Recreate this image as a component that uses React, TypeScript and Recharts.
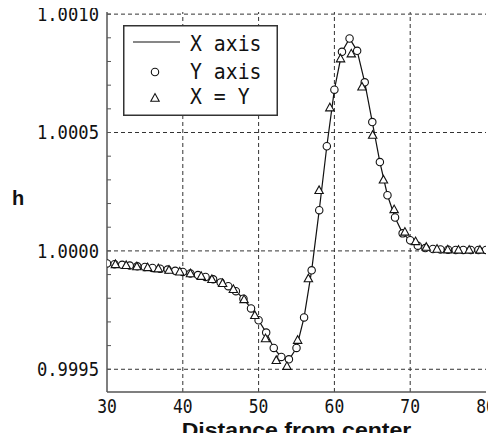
import {
  ComposedChart,
  Line,
  Scatter,
  XAxis,
  YAxis,
  ReferenceLine,
  Legend,
  Label,
} from "recharts";

// distance along the X axis / Y axis (integer steps)
const distance = [
  30, 31, 32, 33, 34, 35, 36, 37, 38, 39, 40, 41, 42, 43, 44, 45, 46, 47, 48, 49,
  50, 51, 52, 53, 54, 55, 56, 57, 58, 59, 60, 61, 62, 63, 64, 65, 66, 67, 68, 69,
  70, 71, 72, 73, 74, 75, 76, 77, 78, 79, 80,
];

// h along X axis (line)
const hXAxis = [
  0.999947, 0.999944, 0.999941, 0.999938, 0.999935, 0.999932, 0.999928, 0.999925,
  0.999921, 0.999916, 0.999911, 0.999905, 0.999898, 0.99989, 0.99988, 0.999867,
  0.999851, 0.99983, 0.999798, 0.999757, 0.999707, 0.999655, 0.99959, 0.99955,
  0.99954, 0.99959, 0.999719, 0.999918, 1.000172, 1.000442, 1.000681, 1.000841,
  1.000897, 1.000845, 1.000712, 1.000544, 1.000375, 1.000235, 1.000141, 1.000074,
  1.000045, 1.000022, 1.000012, 1.000008, 1.000006, 1.000005, 1.000004, 1.000004,
  1.000004, 1.000004, 1.000004,
];

// h along Y axis (circles)
const hYAxis = [
  0.999947, 0.999944, 0.999941, 0.999938, 0.999935, 0.999932, 0.999928, 0.999925,
  0.999921, 0.999916, 0.999911, 0.999905, 0.999898, 0.99989, 0.99988, 0.999867,
  0.999851, 0.99983, 0.999798, 0.999757, 0.999707, 0.999655, 0.99959, 0.999552,
  0.999542, 0.99959, 0.999719, 0.999918, 1.000172, 1.000442, 1.000681, 1.000841,
  1.000897, 1.000845, 1.000712, 1.000544, 1.000375, 1.000235, 1.000141, 1.000074,
  1.000045, 1.000022, 1.000012, 1.000008, 1.000006, 1.000005, 1.000004, 1.000004,
  1.000004, 1.000004, 1.000004,
];

// distance along the diagonal X = Y (triangles)
const diagDistance = [
  31.11, 32.53, 33.94, 35.36, 36.77, 38.18, 39.6, 41.01, 42.43, 43.84, 45.25, 46.67,
  48.08, 49.5, 50.91, 52.33, 53.74, 55.15, 56.57, 57.98, 59.4, 60.81, 62.23, 63.64,
  65.05, 66.47, 67.88, 69.3, 70.71, 72.12, 73.54, 74.95, 76.37, 77.78, 79.2,
];

const hDiag = [
  0.999943, 0.999939, 0.999934, 0.99993, 0.999925, 0.999919, 0.999912, 0.999904,
  0.999893, 0.99988, 0.999863, 0.999838, 0.999795, 0.999728, 0.99963, 0.999538,
  0.999513, 0.999623, 0.999883, 1.000256, 1.000605, 1.000812, 1.000833, 1.000693,
  1.000489, 1.0003, 1.000175, 1.00008, 1.00004, 1.000016, 1.000008, 1.000005,
  1.000004, 1.000004, 1.000004,
];

const seriesOrder = ["X axis", "Y axis", "X = Y"];
const xTicks = [30, 40, 50, 60, 70, 80];
const xGrid = [40, 50, 60, 70];
const yGrid = [0.9995, 1.0, 1.0005, 1.001];
const yTicks = [
  0.9995, 0.9996, 0.9997, 0.9998, 0.9999, 1.0, 1.0001, 1.0002, 1.0003, 1.0004,
  1.0005, 1.0006, 1.0007, 1.0008, 1.0009, 1.001,
];

const lineData = distance.map((x, i) => ({ x, h: hXAxis[i] }));
const yAxisData = distance.map((x, i) => ({ x, h: hYAxis[i] }));
const diagData = diagDistance.map((x, i) => ({ x, h: hDiag[i] }));

const MONO = "'DejaVu Sans Mono', monospace";
const SANS = "'Liberation Sans', Arial, sans-serif";
const AXIS = "#555";

const fmtY = (v: number) =>
  Math.round(v * 10000) % 5 === 0 ? v.toFixed(4) : "";

// narrow, tall monospace digits like the original
function YTick({ x, y, payload }: any) {
  const label = fmtY(payload.value);
  if (!label) return null;
  return (
    <text
      transform={`translate(${x},${y}) scale(0.86,1)`}
      textAnchor="end"
      dominantBaseline="central"
      fontFamily={MONO}
      fontSize={20}
      fill="#111"
    >
      {label}
    </text>
  );
}

function XTick({ x, y, payload }: any) {
  return (
    <text
      transform={`translate(${x},${y}) scale(0.86,1)`}
      textAnchor="middle"
      dy="0.71em"
      fontFamily={MONO}
      fontSize={19}
      fill="#111"
    >
      {payload.value}
    </text>
  );
}

function CircleDot(props: any) {
  const { cx, cy } = props;
  return <circle cx={cx} cy={cy} r={3.7} fill="#fff" stroke="#111" strokeWidth={1.1} />;
}

function TriangleDot(props: any) {
  const { cx, cy } = props;
  return (
    <polygon
      points={`${cx - 4.2},${cy + 3.2} ${cx + 4.2},${cy + 3.2} ${cx},${cy - 4.4}`}
      fill="#fff"
      stroke="#111"
      strokeWidth={1.1}
    />
  );
}

function LegendBox({ payload }: any) {
  const rows = [18.5, 47, 72];
  const items = [...(payload || [])].sort(
    (a: any, b: any) => seriesOrder.indexOf(a.value) - seriesOrder.indexOf(b.value)
  );
  return (
    <svg width={155} height={91} style={{ display: "block" }}>
      <rect x={0.75} y={0.75} width={153.5} height={89.5} fill="#fff" stroke="#333" strokeWidth={1.5} />
      {items.map((p: any, i: number) => {
        const y = rows[i];
        let icon;
        if (p.value === "X axis") icon = <line x1={10} x2={57} y1={y - 1.5} y2={y - 1.5} stroke="#111" strokeWidth={1.2} />;
        else if (p.value === "Y axis") icon = <CircleDot cx={32} cy={y} />;
        else icon = <TriangleDot cx={32} cy={y + 1} />;
        return (
          <g key={p.value}>
            {icon}
            <text
              transform={`translate(67,${y}) scale(0.9,1)`}
              dominantBaseline="central"
              fontFamily={MONO}
              fontSize={22}
              fill="#111"
            >
              {p.value}
            </text>
          </g>
        );
      })}
    </svg>
  );
}

function XTitle({ viewBox }: any) {
  const { x, y, width, height } = viewBox;
  return (
    <text
      transform={`translate(${x + width / 2},${y + height - 4.5}) scale(1.1,1)`}
      textAnchor="middle"
      fontFamily={SANS}
      fontSize={21}
      fontWeight="bold"
      fill="#111"
    >
      Distance from center
    </text>
  );
}

export default function App() {
  return (
    <div style={{ margin: -8, width: 496, height: 441, background: "#fff" }}>
      <ComposedChart width={496} height={441} margin={{ top: 12, right: 10, bottom: 0, left: 0 }}>
        <XAxis
          dataKey="x"
          type="number"
          domain={[30, 80]}
          ticks={xTicks}
          height={49}
          tickLine={false}
          tickSize={0}
          tickMargin={7}
          axisLine={{ stroke: AXIS, strokeWidth: 1.5 }}
          tick={XTick}
          allowDataOverflow
        >
          <Label content={XTitle} position="insideBottom" />
        </XAxis>
        <XAxis
          xAxisId="top"
          orientation="top"
          type="number"
          domain={[30, 80]}
          ticks={xTicks}
          height={0}
          tickLine={false}
          tickFormatter={() => ""}
          axisLine={{ stroke: AXIS, strokeWidth: 1.5 }}
          allowDataOverflow
        />
        <YAxis
          dataKey="h"
          type="number"
          domain={[0.999404, 1.001009]}
          ticks={yTicks}
          width={107}
          tickSize={-4}
          tickMargin={12}
          tick={YTick}
          tickLine={{ stroke: AXIS }}
          axisLine={{ stroke: AXIS, strokeWidth: 1.5 }}
          allowDataOverflow
        >
          <Label
            value="h"
            position="insideLeft"
            offset={12}
            dy={-4}
            style={{ fontFamily: SANS, fontSize: 20, fontWeight: "bold", fill: "#111" }}
          />
        </YAxis>
        <YAxis
          yAxisId="right"
          orientation="right"
          type="number"
          domain={[0.999404, 1.001009]}
          ticks={yTicks}
          width={0}
          tickSize={-4}
          tickFormatter={() => ""}
          tickLine={{ stroke: AXIS }}
          axisLine={{ stroke: AXIS, strokeWidth: 1.5 }}
          allowDataOverflow
        />
        {xGrid.map((v) => (
          <ReferenceLine key={"x" + v} x={v} stroke="#333" strokeDasharray="4 3" />
        ))}
        {yGrid.map((v) => (
          <ReferenceLine key={"y" + v} y={v} stroke="#333" strokeDasharray="4 3" />
        ))}
        <Line
          data={lineData}
          dataKey="h"
          name="X axis"
          stroke="#111"
          strokeWidth={1.2}
          dot={false}
          isAnimationActive={false}
        />
        <Scatter
          data={yAxisData}
          dataKey="h"
          name="Y axis"
          shape={CircleDot}
          isAnimationActive={false}
        />
        <Scatter
          data={diagData}
          dataKey="h"
          name="X = Y"
          shape={TriangleDot}
          isAnimationActive={false}
        />
        <Legend
          layout="vertical"
          align="center"
          verticalAlign="middle"
          content={LegendBox}
          wrapperStyle={{ left: 123, top: 24.7, width: 155, height: 91 }}
        />
      </ComposedChart>
    </div>
  );
}
